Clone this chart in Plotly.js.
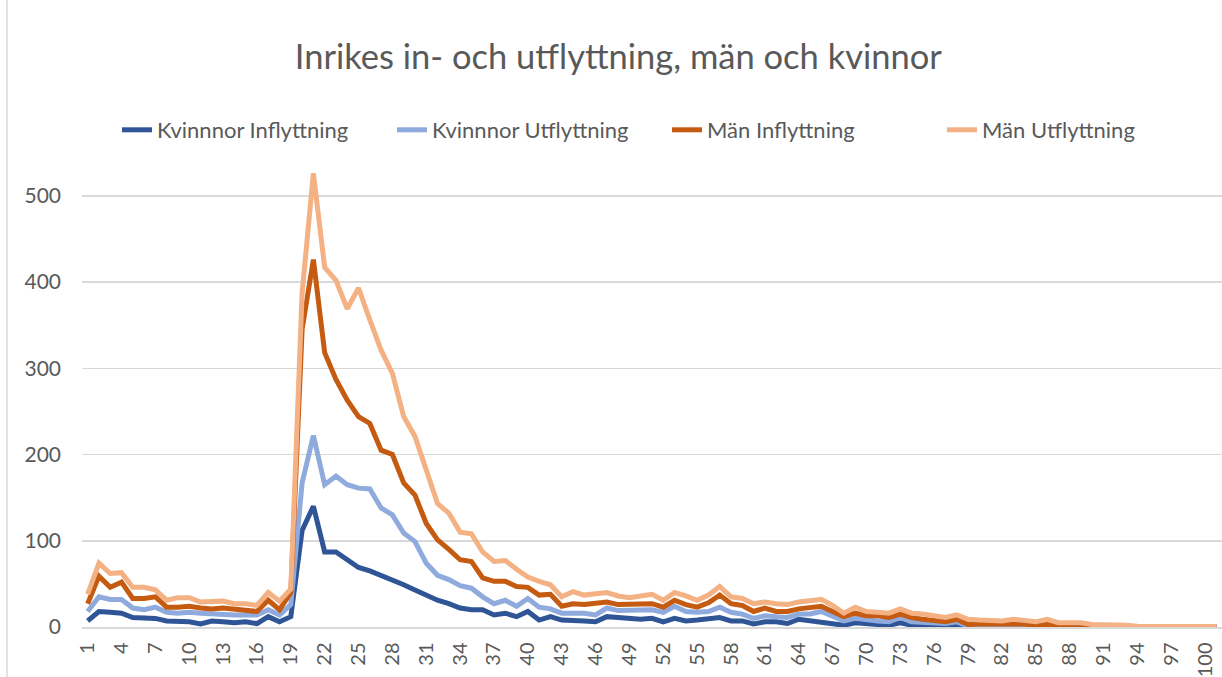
<!DOCTYPE html>
<html>
<head>
<meta charset="utf-8">
<script src="https://cdn.plot.ly/plotly-3.0.1.min.js"></script>
<style>
html, body { margin: 0; padding: 0; background: #ffffff; }
#chart { width: 1222px; height: 677px; }
</style>
</head>
<body>
<div id="chart"></div>
<script>
// Categories (age 1..101)
const ages = [1,2,3,4,5,6,7,8,9,10,11,12,13,14,15,16,17,18,19,20,
  21,22,23,24,25,26,27,28,29,30,31,32,33,34,35,36,37,38,39,40,
  41,42,43,44,45,46,47,48,49,50,51,52,53,54,55,56,57,58,59,60,
  61,62,63,64,65,66,67,68,69,70,71,72,73,74,75,76,77,78,79,80,
  81,82,83,84,85,86,87,88,89,90,91,92,93,94,95,96,97,98,99,100,101];

const tickAges = [1,4,7,10,13,16,19,22,25,28,31,34,37,40,43,46,49,52,55,58,61,64,67,70,73,76,79,82,85,88,91,94,97,100];

const kvinnorInflyttning = [7,18,17,16,11,10,10,7,7,6,3.5,7,6,5,6,4,12,6,12,112,
  140,87,87,78,69,65,60,54,49,43,37,31,27,22,20,20,14,16,12,18,
  8,12,8,8,7,6,12,11,10,9,10,6,10,7,8,9,11,7,7,3.5,
  6,6,4,9,7,6,4,2,5,3.5,3,2,5,2,2,1,2,3,0,1,
  1,1,1,0,0,1,0.5,0,0.5,0,0,0,0,0,0,0,0,0,0,0,0];

const kvinnorUtflyttning = [18,35,32,32,22,20,23,17,16,17,16,15,15,14,14,14,20,14,26,167,
  222,165,175,165,161,160,138,130,109,99,74,60,55,48,45,35,27,31,24,33,
  23,21,16,16,16,14,22,19,19,19,20,17,24,18,17,18,23,17,15,10,
  13,12,11,15,15,18,12,7,10,8,7,6,11,6,5,4,4,6,1,2,
  2,2,3,0.5,0.5,2,1,1,1.5,0.5,0.5,0,0,0,0,0,0,0,0,0,0];

const manInflyttning = [27,59,46,52,33,33,35,23,23,24,22,21,22,21,19,18,31,20,40,345,
  426,318,287,263,244,236,205,200,167,153,120,101,90,78,76,57,53,53,47,46,
  37,38,24,27,26,28,29,26,26,27,27,23,31,26,23,28,37,27,25,18,
  22,18,18,21,22,24,18,12,16,13,13,11,15,11,9,7,6,9,3,3.5,
  3.5,3,4,3.5,1.5,3,2,2,2,0.5,0.5,0.5,0,0,0,0,0,0,0,0,0];

const manUtflyttning = [38,74,62,63,46,46,43,31,34,34,29,29,30,27,27,25,40,30,44,387,
  526,417,402,369,393,356,321,294,244,221,182,143,132,110,108,87,76,77,67,58,
  53,49,35,41,37,38,40,36,34,36,38,31,40,36,31,37,47,35,33,27,
  29,27,26,29,30,32,25,16,23,18,17,16,21,16,15,13,11,14,9,8,
  8,7,9,8,6,9,5,5,5,3,3,3,2,1,1,1,1.5,1,1,0.5,0.5];

const seriesNames = ['Kvinnnor Inflyttning', 'Kvinnnor Utflyttning', 'Män Inflyttning', 'Män Utflyttning'];
const seriesColors = ['#2F5597', '#8FAADC', '#C55A11', '#F4B183'];
const seriesValues = [kvinnorInflyttning, kvinnorUtflyttning, manInflyttning, manUtflyttning];

const FONT = 'Lato, "Open Sans", "Liberation Sans", sans-serif';
const GRAY = '#595959';

const traces = seriesValues.map((vals, i) => ({
  type: 'scatter',
  mode: 'lines',
  x: ages,
  y: vals,
  name: seriesNames[i],
  line: { color: seriesColors[i], width: 5, shape: 'linear' },
  hoverinfo: 'x+y+name'
}));

const layout = {
  width: 1222,
  height: 677,
  paper_bgcolor: '#ffffff',
  plot_bgcolor: '#ffffff',
  margin: { l: 82, r: 0, t: 144, b: 50, autoexpand: false },
  font: { family: FONT, color: GRAY },
  title: {
    text: 'Inrikes in- och utflyttning, män och kvinnor',
    font: { family: FONT, size: 34.5, color: GRAY },
    x: 0.506, xanchor: 'center', xref: 'container',
    y: 1 - 57 / 677, yanchor: 'middle', yref: 'container'
  },
  showlegend: true,
  legend: {
    orientation: 'h',
    xref: 'container', yref: 'container',
    x: 117 / 1222, xanchor: 'left',
    y: 1 - 130 / 677, yanchor: 'middle',
    font: { family: FONT, size: 22, color: GRAY },
    itemwidth: 30,
    entrywidth: 230,
    entrywidthmode: 'pixels',
    bgcolor: 'rgba(0,0,0,0)'
  },
  xaxis: {
    type: 'linear',
    range: [0.5, 101.5],
    tickmode: 'array',
    tickvals: tickAges,
    ticktext: tickAges.map(String),
    tickangle: -90,
    tickfont: { family: FONT, size: 20, color: GRAY },
    showgrid: false,
    zeroline: false,
    showline: true,
    linecolor: '#d9d9d9',
    linewidth: 1.5,
    ticks: '',
    ticklabelstandoff: 6,
    automargin: false,
    fixedrange: true
  },
  yaxis: {
    range: [0, 560],
    tickmode: 'array',
    tickvals: [0, 100, 200, 300, 400, 500],
    tickfont: { family: FONT, size: 21, color: GRAY },
    showgrid: true,
    gridcolor: '#d9d9d9',
    gridwidth: 1.5,
    zeroline: false,
    showline: false,
    ticks: '',
    ticklabelstandoff: 20,
    automargin: false,
    fixedrange: true
  },
  shapes: [
    {
      type: 'line', xref: 'paper', yref: 'paper',
      x0: -75 / 1140, x1: -75 / 1140, y0: -0.2, y1: 1.4,
      line: { color: '#d9d9d9', width: 1.5 }
    }
  ]
};

Plotly.newPlot('chart', traces, layout, { displayModeBar: false, staticPlot: true });
</script>
</body>
</html>
